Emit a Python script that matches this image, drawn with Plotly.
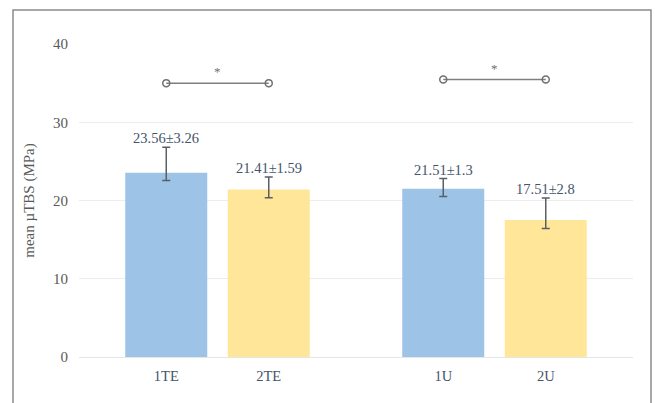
import plotly.graph_objects as go

# ---- data ----
groups = ["TE", "U"]
series_names = ["1", "2"]
labels_s1 = ["1TE", "1U"]
labels_s2 = ["2TE", "2U"]
means_s1 = [23.56, 21.51]
means_s2 = [21.41, 17.51]
err_plus_s1 = [3.26, 1.3]
err_plus_s2 = [1.59, 2.8]
err_minus_s1 = [1.0, 1.0]
err_minus_s2 = [1.05, 1.1]
text_s1 = ["23.56±3.26", "21.51±1.3"]
text_s2 = ["21.41±1.59", "17.51±2.8"]
sig_y = [35.0, 35.45]
sig_text = ["*", "*"]
y_ticks = [0, 10, 20, 30, 40]

# ---- styling ----
W, H = 655, 403
L, R, T, B = 79, 22, 44, 46
BARGAP, GROUPGAP = 0.26, 0.2
off = (1 - BARGAP) / 4
blue, yellow = "#9DC3E6", "#FFE699"
txt = "#44546A"
grey = "#595959"
serif = "Liberation Serif"

xs = list(range(len(groups)))

fig = go.Figure()
fig.add_trace(go.Bar(
    x=xs, y=means_s1, name=series_names[0], marker=dict(color=blue, line=dict(width=0)),
    error_y=dict(type="data", symmetric=False, array=err_plus_s1, arrayminus=err_minus_s1,
                 color="#5a5f66", thickness=1.5, width=4),
))
fig.add_trace(go.Bar(
    x=xs, y=means_s2, name=series_names[1], marker=dict(color=yellow, line=dict(width=0)),
    error_y=dict(type="data", symmetric=False, array=err_plus_s2, arrayminus=err_minus_s2,
                 color="#5a5f66", thickness=1.5, width=4),
))

annotations = []
tickvals, ticktext = [], []
for i, g in enumerate(xs):
    x1, x2 = g - off, g + off
    tickvals += [x1, x2]
    ticktext += [labels_s1[i], labels_s2[i]]
    annotations.append(dict(x=x1, y=means_s1[i] + err_plus_s1[i], text=text_s1[i],
                            showarrow=False, yanchor="bottom", yshift=-1,
                            font=dict(family=serif, size=14.5, color=txt)))
    annotations.append(dict(x=x2, y=means_s2[i] + err_plus_s2[i], text=text_s2[i],
                            showarrow=False, yanchor="bottom", yshift=-1,
                            font=dict(family=serif, size=14.5, color=txt)))
    # significance bracket
    fig.add_trace(go.Scatter(
        x=[x1, x2], y=[sig_y[i], sig_y[i]], mode="lines+markers",
        line=dict(color="#7f7f7f", width=1.5),
        marker=dict(symbol="circle-open", size=7, color="#6f6f6f", line=dict(width=1.5)),
        hoverinfo="skip", showlegend=False,
    ))
    annotations.append(dict(x=g, y=sig_y[i], text=sig_text[i], showarrow=False,
                            yanchor="bottom", yshift=2,
                            font=dict(family=serif, size=13, color="#6f6f6f")))

pw, ph = W - L - R, H - T - B
# outer frame (pixel positions converted to paper coordinates)
fx0, fx1, fy0, fy1 = 13, 651, 410, 10
shapes = [dict(type="rect", xref="paper", yref="paper",
               x0=(fx0 - L) / pw, x1=(fx1 - L) / pw,
               y0=(H - B - fy0) / ph, y1=(H - B - fy1) / ph,
               line=dict(color="#8a8a8a", width=1.5), fillcolor="rgba(0,0,0,0)", layer="below")]

fig.update_layout(
    width=W, height=H,
    margin=dict(l=L, r=R, t=T, b=B, pad=0),
    paper_bgcolor="white", plot_bgcolor="white",
    barmode="group", bargap=BARGAP, bargroupgap=GROUPGAP,
    showlegend=False,
    annotations=annotations, shapes=shapes,
    font=dict(family=serif, color=grey),
    xaxis=dict(range=[-0.5, 1.5], tickvals=tickvals, ticktext=ticktext,
               showgrid=False, zeroline=False, showline=False, ticks="",
               tickfont=dict(family=serif, size=14.5, color=txt), ticklabelstandoff=8),
    yaxis=dict(range=[0, 40], tickvals=y_ticks, showgrid=True, gridcolor="#ececec", gridwidth=1,
               zeroline=True, zerolinecolor="#e6e6e6", zerolinewidth=1, showline=False,
               ticks="", tickfont=dict(family=serif, size=15, color=grey), ticklabelstandoff=10,
               title=dict(text="mean µTBS (MPa)", font=dict(family=serif, size=15, color=grey),
                          standoff=14)),
)

fig.write_html("out.html")
